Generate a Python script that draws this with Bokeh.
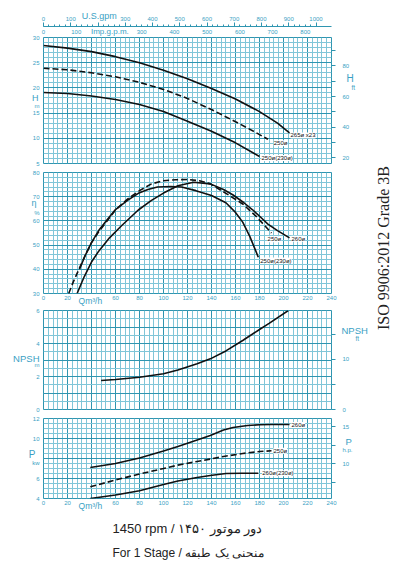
import math
from bokeh.plotting import figure
from bokeh.models import Range1d, LinearAxis, FixedTicker, Label, Title
from bokeh.layouts import column, row
from bokeh.embed import file_html
from bokeh.resources import INLINE

# ---------------- data ----------------
# Head H [m] against flow Q [m3/h]
q_h_a = [0, 20, 40, 60, 80, 100, 120, 140, 160, 180, 195, 205]
h_a = [28.4, 27.9, 27.2, 26.2, 25.0, 23.5, 21.8, 19.9, 17.8, 15.3, 13.0, 11.1]
q_h_b = [0, 20, 40, 60, 80, 100, 120, 140, 160, 175, 187]
h_b = [23.9, 23.6, 23.0, 22.2, 21.1, 19.7, 17.9, 15.7, 13.3, 11.4, 9.8]
q_h_c = [0, 20, 40, 60, 80, 100, 120, 140, 160, 180]
h_c = [19.1, 18.9, 18.4, 17.7, 16.7, 15.3, 13.4, 11.4, 9.1, 6.4]
h_names = ["265ø x23", "250ø", "250ø(230ø)"]

# Efficiency eta [%]
q_e_a = [28, 34, 40, 46, 55, 65, 79, 90, 100, 112, 125, 139, 150, 158, 167, 174, 181, 187, 195, 205]
e_a = [30, 37, 43, 47.5, 53, 58, 64.5, 68.5, 71.5, 74.5, 76, 75.3, 73, 70.7, 67.5, 64.7, 61.5, 58.7, 56, 53]
q_e_b = [21, 25, 30, 35, 40, 46, 53, 60, 70, 80, 90, 100, 110, 120, 130, 139, 152, 166, 177, 190]
e_b = [30, 35, 40.5, 46, 51, 55.5, 60, 64.5, 69, 72.5, 75.3, 76.6, 77, 77.1, 76.6, 75.3, 71.4, 67, 62, 55]
q_e_c = [30, 35, 40, 46, 53, 60, 70, 79, 87, 95, 106, 115, 127, 140, 152, 160, 166, 172, 179]
e_c = [40, 46, 51, 56, 60.5, 64.7, 68.5, 71.4, 73, 74, 74.2, 74, 72.5, 70.5, 67.5, 63.5, 59.5, 53.5, 45]
e_names = ["260ø", "250ø", "250ø(230ø)"]

# NPSH [m]
q_n = [48, 60, 80, 100, 112, 128, 139, 152, 166, 180, 188, 204]
npsh = [1.76, 1.82, 1.95, 2.17, 2.4, 2.77, 3.07, 3.55, 4.18, 4.85, 5.22, 6.0]

# Power P [kW]
q_p_a = [39, 60, 80, 100, 112, 128, 139, 150, 158, 170, 180, 190, 205]
p_a = [7.1, 7.5, 8.05, 8.75, 9.2, 9.85, 10.3, 10.85, 11.1, 11.3, 11.37, 11.4, 11.4]
q_p_b = [39, 60, 80, 100, 112, 128, 139, 150, 166, 180, 190]
p_b = [5.17, 5.85, 6.45, 7.0, 7.34, 7.7, 7.94, 8.2, 8.5, 8.7, 8.77]
q_p_c = [39, 60, 80, 100, 112, 128, 139, 152, 165, 179]
p_c = [4.0, 4.35, 4.77, 5.4, 5.75, 6.1, 6.3, 6.5, 6.52, 6.52]
p_names = ["260ø", "250ø", "260ø(230ø)"]

q_ticks = [0, 20, 60, 80, 100, 120, 140, 160, 180, 200, 220, 240]
h_ticks = [5, 10, 15, 20, 25, 30]
e_ticks = [30, 40, 50, 60, 70, 80]
n_ticks = [0, 2, 4, 6]
p_ticks = [4, 6, 10, 12]
ft_ticks = [20, 40, 60, 80]
nft_ticks = [0, 10]
hp_ticks = [10, 15]
us_ticks = [0, 100, 300, 400, 500, 600, 700, 800, 900, 1000]
imp_ticks = [0, 100, 300, 400, 500, 600, 700, 800]

title1 = "1450 rpm / دور موتور ۱۴۵۰"
title2 = "For 1 Stage / منحنی یک طبقه"
iso_text = "ISO 9906:2012 Grade 3B"

# ---------------- style ----------------
TXT = "#3a9fc4"
GMAJ = "#2f95b0"
GMIN = "#80c6d8"
INK = "#111111"
SANS = "Liberation Sans"

W = 370
FL, FR = 43, 32
FRAME_W = W - FL - FR   # 295
Q0, Q1 = 0, 240


def x_at(px):
    return round(Q0 + (px - FL) * (Q1 - Q0) / FRAME_W, 3)


def qpx(dx):
    return dx * (Q1 - Q0) / FRAME_W


def style_axis(ax, size="6px", standoff=4, tick=0, minor=0, line=None):
    ax.axis_line_color = line
    ax.major_tick_out = tick
    ax.major_tick_in = 0
    ax.minor_tick_out = minor
    ax.minor_tick_in = 0
    ax.major_tick_line_color = GMAJ
    ax.minor_tick_line_color = GMAJ
    ax.major_label_standoff = standoff
    ax.major_label_text_font = SANS
    ax.major_label_text_font_size = size
    ax.major_label_text_color = TXT


class Panel:
    def __init__(self, page_top, height, top, bottom, y0, y1, y_major, y_minor):
        self.top_px = page_top + top
        self.bot_px = page_top + height - bottom
        self.y0, self.y1 = y0, y1
        p = figure(width=W, height=height, x_range=Range1d(Q0, Q1), y_range=Range1d(y0, y1),
                   x_axis_location=None, y_axis_location="left",
                   output_backend="svg", toolbar_location=None,
                   min_border_left=FL, min_border_right=FR,
                   min_border_top=top, min_border_bottom=bottom)
        p.background_fill_color = "white"
        p.border_fill_color = "white"
        p.outline_line_color = GMAJ
        p.outline_line_width = 1
        p.xgrid[0].ticker = FixedTicker(ticks=list(range(0, 241, 20)), minor_ticks=list(range(0, 241, 4)))
        p.ygrid[0].ticker = FixedTicker(ticks=y_major, minor_ticks=y_minor)
        for g in (p.xgrid[0], p.ygrid[0]):
            g.grid_line_color = GMAJ
            g.grid_line_width = 1
            g.minor_grid_line_color = GMIN
            g.minor_grid_line_width = 1
        self.p = p

    def y_at(self, py):
        return round(self.y1 - (py - self.top_px) * (self.y1 - self.y0) / (self.bot_px - self.top_px), 3)

    def ypx(self, dy):
        return dy * (self.y1 - self.y0) / (self.bot_px - self.top_px)

    def left(self, ticks, words):
        # numbers plus the small unit word share the axis next to the frame
        ax = self.p.yaxis[0]
        wt = {self.y_at(py): s for py, s in words}
        ax.ticker = FixedTicker(ticks=list(ticks) + list(wt))
        ax.major_label_overrides = wt
        style_axis(ax, standoff=4)

    def word(self, side, pos, s, size, standoff):
        t = self.y_at(pos) if side in ("left", "right") else x_at(pos)
        ax = LinearAxis(ticker=FixedTicker(ticks=[t]))
        ax.major_label_overrides = {t: s}
        style_axis(ax, size=size, standoff=standoff)
        self.p.add_layout(ax, side)

    def right(self, name, lo, hi, ticks, minor, words=()):
        self.p.extra_y_ranges = {name: Range1d(lo, hi)}
        conv = (hi - lo) / (self.y1 - self.y0)
        wt = {round(lo + (self.y_at(py) - self.y0) * conv, 3): s for py, s in words}
        ax = LinearAxis(y_range_name=name, ticker=FixedTicker(ticks=list(ticks) + list(wt), minor_ticks=minor))
        ax.major_label_overrides = wt
        style_axis(ax, standoff=7, tick=0, minor=4)
        self.p.add_layout(ax, "right")

    def bottom(self, ticks):
        ax = LinearAxis(ticker=FixedTicker(ticks=ticks))
        style_axis(ax, standoff=2)
        self.p.add_layout(ax, "below")

    def curve(self, q, v, dashed=False):
        self.p.line(q, v, line_color=INK, line_width=1.6,
                    line_dash="6 3" if dashed else "solid")

    def tag(self, q, v, s, dx, dy):
        self.p.add_layout(Label(x=q[-1] + qpx(dx), y=v[-1] - self.ypx(dy), text=s,
                                text_font=SANS, text_font_size="6px", text_color=INK,
                                text_align="left", text_baseline="middle",
                                background_fill_color="white"))


def frange(a, b, s):
    out, v = [], a
    while v <= b + 1e-9:
        out.append(round(v, 4))
        v += s
    return out


# ---------------- panel 1: head ----------------
P1 = Panel(0, 167, 37, 4, 5, 30, list(range(5, 31, 5)), list(range(5, 31, 1)))
P1.left(h_ticks, [(105.5, "m")])
P1.word("left", 97, "H", "9px", -9)
P1.right("ft", 5 / 0.3048, 30 / 0.3048, ft_ticks, list(range(20, 91, 10)))
P1.word("right", 78, "H", "10px", -6)
P1.word("right", 87, "ft", "6.5px", -5)

P1.p.extra_x_ranges = {"imp": Range1d(0, Q1 * 3.6662), "us": Range1d(0, Q1 * 4.4029)}
imp_ax = LinearAxis(x_range_name="imp", ticker=FixedTicker(ticks=imp_ticks))
style_axis(imp_ax, standoff=4)
P1.p.add_layout(imp_ax, "above")
us_ax = LinearAxis(x_range_name="us",
                   ticker=FixedTicker(ticks=us_ticks + [200], minor_ticks=list(range(0, 1001, 20))))
us_ax.major_label_overrides = {200: " "}
style_axis(us_ax, standoff=1, tick=4, minor=2, line=GMAJ)
us_ax.axis_line_width = 1.2
P1.p.add_layout(us_ax, "above")
P1.word("above", 100, "U.S.gpm", "9px", -8)
P1.word("above", 111, "Imp.g.p.m.", "8px", -28)

P1.curve(q_h_a, h_a)
P1.curve(q_h_b, h_b, dashed=True)
P1.curve(q_h_c, h_c)
P1.tag(q_h_a, h_a, h_names[0], 1, 2.7)
P1.tag(q_h_b, h_b, h_names[1], 6, 4)
P1.tag(q_h_c, h_c, h_names[2], 2, 1.5)

# ---------------- panel 2: efficiency ----------------
P2 = Panel(167, 141, 5, 11, 30, 80, list(range(30, 81, 10)), list(range(30, 81, 2)))
P2.left(e_ticks, [(213.5, "%")])
P2.word("left", 203.5, "η", "9px", -7)
P2.bottom(q_ticks)
P2.word("below", 91, "Qm³/h", "8.5px", -7)
P2.curve(q_e_a, e_a)
P2.curve(q_e_b, e_b, dashed=True)
P2.curve(q_e_c, e_c)
P2.tag(q_e_a, e_a, e_names[0], 2, 1)
P2.tag(q_e_b, e_b, e_names[1], -4, 6.5)
P2.tag(q_e_c, e_c, e_names[2], 2, 3.5)

# ---------------- panel 3: NPSH ----------------
P3 = Panel(308, 105, 2, 4, 0, 6, list(range(0, 7)), frange(0, 6, 0.5))
P3.left(n_ticks, [(365, "m")])
P3.word("left", 358.5, "NPSH", "9.5px", -8)
P3.right("nft", 0, 6 / 0.3048, nft_ticks, list(range(0, 20, 5)))
P3.word("right", 330, "NPSH", "9.5px", -11)
P3.word("right", 338.5, "ft", "6.5px", -15)
P3.curve(q_n, npsh)

# ---------------- panel 4: power ----------------
P4 = Panel(413, 150, 5, 65, 4, 12, list(range(4, 13, 2)), frange(4, 12, 0.5))
P4.left(p_ticks, [(462, "kw")])
P4.word("left", 453.5, "P", "10px", -6)
P4.bottom(q_ticks)
P4.word("below", 91, "Qm³/h", "8.5px", -7)
P4.right("hp", 4 / 0.7457, 12 / 0.7457, hp_ticks, [7.5, 10, 12.5, 15], words=[(450, "h.p.")])
P4.word("right", 440.5, "P", "9.5px", -10)
P4.curve(q_p_a, p_a)
P4.curve(q_p_b, p_b, dashed=True)
P4.curve(q_p_c, p_c)
P4.tag(q_p_a, p_a, p_names[0], 2, 0.5)
P4.tag(q_p_b, p_b, p_names[1], 2, 0)
P4.tag(q_p_c, p_c, p_names[2], 4, 0)
P4.p.add_layout(Title(text=title1, align="left", offset=69, standoff=10, text_font=SANS,
                      text_font_size="13px", text_font_style="normal", text_color="#222222"), "below")
P4.p.add_layout(Title(text=title2, align="left", offset=69, standoff=6, text_font=SANS,
                      text_font_size="12px", text_font_style="normal", text_color="#222222"), "below")

# ---------------- vertical ISO note ----------------
iso = figure(width=26, height=563, x_range=Range1d(0, 26), y_range=Range1d(0, 563),
             x_axis_location=None, y_axis_location=None,
             output_backend="svg", toolbar_location=None, min_border=0)
iso.outline_line_color = None
iso.xgrid.visible = False
iso.ygrid.visible = False
iso.background_fill_color = "white"
iso.add_layout(Label(x=13, y=563 - 247.5, text=iso_text, angle=math.pi / 2,
                     text_align="center", text_baseline="middle",
                     text_font="Liberation Serif", text_font_size="16px", text_color="#222222"))

layout = row(column(P1.p, P2.p, P3.p, P4.p), iso)
open("out.html", "w").write(file_html(layout, INLINE))
